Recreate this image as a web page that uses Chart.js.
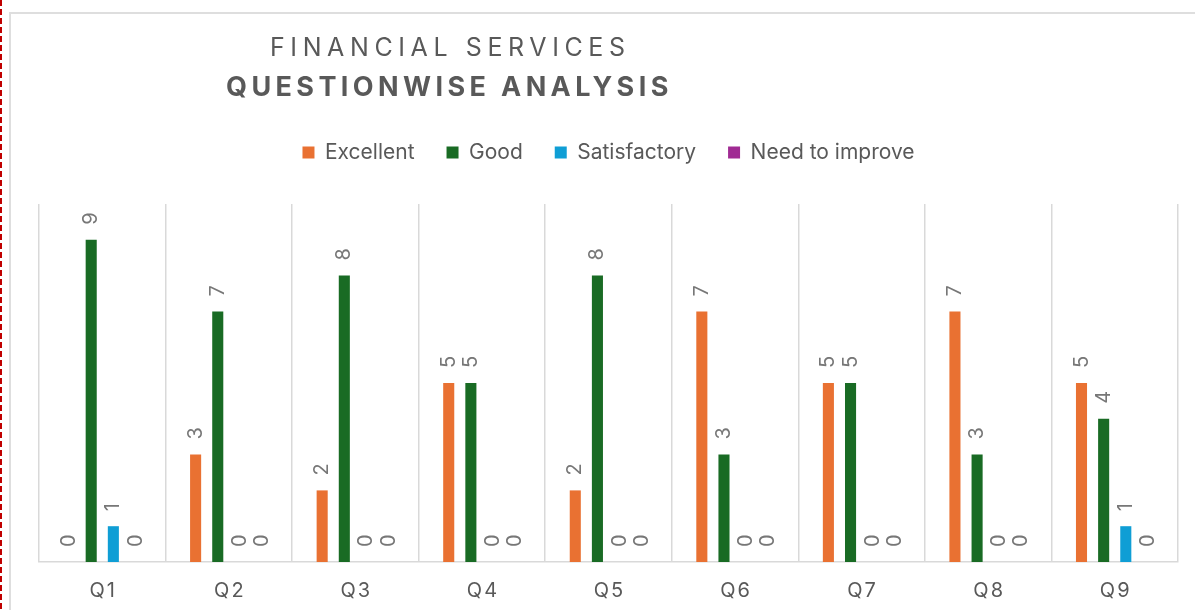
<!DOCTYPE html>
<html>
<head>
<meta charset="utf-8">
<script src="https://cdn.jsdelivr.net/npm/chart.js@4"></script>
<style>
    body { margin: 0; background: #fff; width: 1195px; height: 610px; overflow: hidden; position: relative; font-family: Inter, "Liberation Sans", sans-serif; }
    .dash { position: absolute; left: 0; top: 0; width: 2px; height: 610px;
            background: repeating-linear-gradient(to bottom, #c00000 0 6px, transparent 6px 9px); }
    .frame { position: absolute; left: 9px; top: 12px; width: 1200px; height: 610px;
             border-top: 2px solid #dedede; border-left: 2px solid #dedede; }
    #chart { position: absolute; left: 10px; top: 13px; }
    .title1, .title2 { position: absolute; color: #595959; white-space: nowrap; line-height: 32px; }
    .title1 { left: 270px; top: 31px; font-size: 25px; font-weight: 400; letter-spacing: 5.6px; }
    .title2 { left: 226px; top: 71px; font-size: 27px; font-weight: 700; letter-spacing: 4.4px; }
</style>
</head>
<body>
<div class="dash"></div>
<div class="frame"></div>
<canvas id="chart" width="1185" height="597"></canvas>
<div class="title1">FINANCIAL SERVICES</div>
<div class="title2">QUESTIONWISE ANALYSIS</div>
<script>
// Chart data
const questions = ['Q1', 'Q2', 'Q3', 'Q4', 'Q5', 'Q6', 'Q7', 'Q8', 'Q9'];
const excellent = [0, 3, 2, 5, 2, 7, 5, 7, 5];
const good = [9, 7, 8, 5, 8, 3, 5, 3, 4];
const satisfactory = [1, 0, 0, 0, 0, 0, 0, 0, 1];
const needToImprove = [0, 0, 0, 0, 0, 0, 0, 0, 0];

const textGrey = '#595959';
const gridGrey = '#d9d9d9';

// Rotated value labels above each bar
const barLabels = {
    id: 'barLabels',
    afterDatasetsDraw(chart) {
        const ctx = chart.ctx;
        ctx.save();
        ctx.font = '20px Inter, "Liberation Sans", sans-serif';
        ctx.fillStyle = '#777777';
        ctx.textAlign = 'left';
        ctx.textBaseline = 'middle';
        chart.data.datasets.forEach((ds, i) => {
            chart.getDatasetMeta(i).data.forEach((bar, j) => {
                ctx.save();
                ctx.translate(bar.x, bar.y - 15);
                ctx.rotate(-Math.PI / 2);
                ctx.fillText(String(ds.data[j]), 0, 0);
                ctx.restore();
            });
        });
        ctx.restore();
    }
};

// Category labels with a little letter spacing
const spacedTicks = {
    id: 'spacedTicks',
    afterDraw(chart) {
        const ctx = chart.ctx;
        const xScale = chart.scales.x;
        ctx.save();
        ctx.font = '20px Inter, "Liberation Sans", sans-serif';
        ctx.fillStyle = textGrey;
        ctx.textAlign = 'center';
        ctx.textBaseline = 'alphabetic';
        ctx.letterSpacing = '2px';
        questions.forEach((q, i) => {
            ctx.fillText(q, xScale.getPixelForValue(i) + 1, chart.chartArea.bottom + 35);
        });
        ctx.restore();
    }
};

new Chart(document.getElementById('chart'), {
    type: 'bar',
    data: {
        labels: questions,
        datasets: [
            { label: 'Excellent', data: excellent, backgroundColor: '#E97132' },
            { label: 'Good', data: good, backgroundColor: '#196B24' },
            { label: 'Satisfactory', data: satisfactory, backgroundColor: '#0F9ED5' },
            { label: 'Need to improve', data: needToImprove, backgroundColor: '#A02B93' }
        ]
    },
    options: {
        responsive: false,
        animation: false,
        devicePixelRatio: 1,
        categoryPercentage: 0.7,
        barPercentage: 0.5,
        layout: {
            padding: { left: 29, right: 17, top: 97, bottom: 48 }
        },
        plugins: {
            tooltip: { enabled: false },
            legend: {
                position: 'top',
                labels: {
                    boxWidth: 12,
                    boxHeight: 12,
                    padding: 32,
                    color: textGrey,
                    font: { family: 'Inter', size: 21 }
                }
            }
        },
        scales: {
            x: {
                grid: { color: gridGrey, lineWidth: 1.5, drawTicks: false },
                border: { color: gridGrey, width: 1.5 },
                ticks: { display: false }
            },
            // spacer so the plot starts below the legend
            x2: {
                position: 'top',
                labels: questions,
                grid: { display: false },
                border: { display: false },
                ticks: { display: false },
                afterFit: function (scale) { scale.height = 31; }
            },
            y: {
                display: false,
                min: 0,
                max: 10
            }
        }
    },
    plugins: [barLabels, spacedTicks]
});
</script>
</body>
</html>
